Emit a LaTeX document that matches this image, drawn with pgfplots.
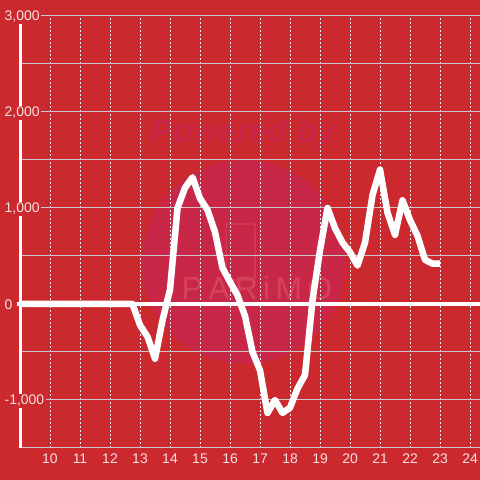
\documentclass[border=0pt]{standalone}
\usepackage{fontspec}
\setmainfont{Liberation Sans}
\usepackage{pgfplots}
\pgfplotsset{compat=1.18}
\definecolor{BgRed}{RGB}{204,41,47}
\definecolor{WmPink}{RGB}{201,39,72}
\definecolor{WmText}{RGB}{214,66,90}
\definecolor{GridGray}{RGB}{200,200,200}
\definecolor{TickCol}{RGB}{244,224,224}

\begin{document}
\begin{tikzpicture}
\begin{axis}[
    set layers,
    clip=false,
    at={(20bp,32bp)}, anchor=south west,
    scale only axis,
    width=460bp, height=432bp,
    xmin=9, xmax=24.333,
    ymin=-1500, ymax=3000,
    axis line style={draw=none},
    major tick length=0pt, minor tick length=0pt,
    xtick={10,11,...,24},
    ytick={-1000,0,1000,2000,3000},
    minor ytick={-1500,-500,500,1500,2500},
    xmajorgrids, ymajorgrids, yminorgrids,
    x grid style={white!90!gray, line width=0.9bp, dash pattern=on 2bp off 2bp},
    y grid style={GridGray, line width=1bp},
    minor y grid style={GridGray, line width=1bp},
    /pgf/number format/1000 sep={,},
    /pgf/number format/assume math mode=true,
    tick label style={text=TickCol, font=\fontsize{14}{14}\selectfont},
    yticklabel style={anchor=west, xshift=-17bp, yshift=-1bp, fill=BgRed, inner sep=1.5bp},
    xticklabel style={yshift=-2bp},
]
% background and watermark
\begin{pgfonlayer}{axis background}
\fill[BgRed] (axis cs:8.3333,-1833.3) rectangle (axis cs:24.3333,3166.7);
\fill[WmPink] (axis cs:16.467,437.5) circle (102bp);
\node[WmPink, font=\fontsize{33}{33}\selectfont\bfseries\itshape] at (axis cs:16.43,1770) {Powered by};
\draw[WmText, line width=1.2bp, rounded corners=2bp] (axis cs:15.87,250) rectangle (axis cs:16.83,833);
\node[WmText, font=\fontsize{32}{32}\selectfont] at (axis cs:16.9,170) {P\,A\,R\,i\,M\,O};
\end{pgfonlayer}
\begin{pgfonlayer}{axis lines}
\draw[white, line width=3bp] (axis cs:9,-1500) -- (axis cs:9,3000);
\draw[white, line width=3.2bp] (axis cs:8.9,0) -- (axis cs:24.333,0);
\end{pgfonlayer}
\addplot[white, line width=6.5bp, line join=round] coordinates {
(9,0) (12.75,0)
(13.0,-220) (13.25,-340) (13.5,-570) (13.75,-170)
(14.0,150) (14.25,1000) (14.5,1210) (14.75,1320)
(15.0,1100) (15.25,980) (15.5,750) (15.75,375)
(16.0,230) (16.25,90) (16.5,-125) (16.75,-500)
(17.0,-690) (17.25,-1135) (17.5,-1000) (17.75,-1135)
(18.0,-1080) (18.25,-880) (18.5,-740) (18.75,40)
(19.0,560) (19.25,1000) (19.5,790) (19.75,640)
(20.0,540) (20.25,400) (20.5,640) (20.75,1135)
(21.0,1400) (21.25,950) (21.5,720) (21.75,1080)
(22.0,875) (22.25,710) (22.5,460) (22.75,420)
(23.0,420)
};
\end{axis}
\pgfresetboundingbox
\path[use as bounding box] (0,0) rectangle (480bp,480bp);
\end{tikzpicture}
\end{document}
